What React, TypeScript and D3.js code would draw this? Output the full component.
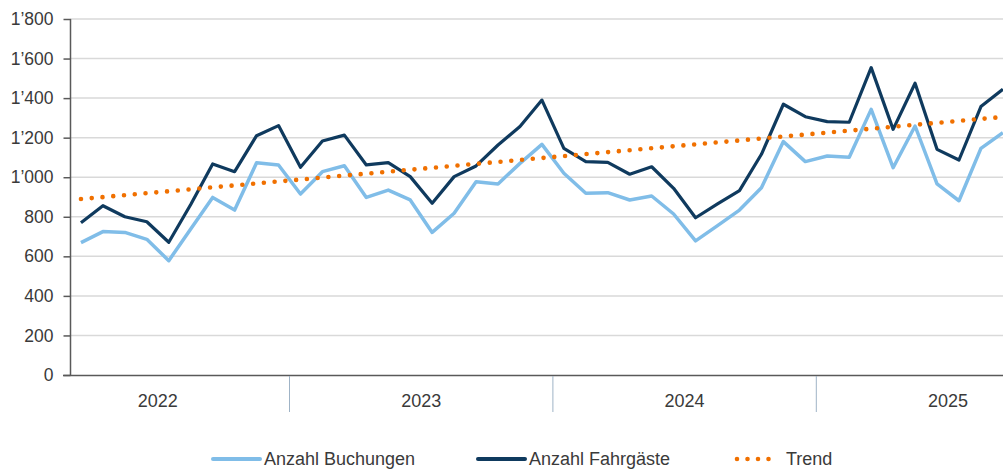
import React, { useEffect, useRef } from 'react';
import * as d3 from 'd3';

// months shown on the axis (Mar 2022 - Sep 2025)
const months = [
  '2022-03', '2022-04', '2022-05', '2022-06', '2022-07', '2022-08', '2022-09', '2022-10', '2022-11', '2022-12',
  '2023-01', '2023-02', '2023-03', '2023-04', '2023-05', '2023-06', '2023-07', '2023-08', '2023-09', '2023-10', '2023-11', '2023-12',
  '2024-01', '2024-02', '2024-03', '2024-04', '2024-05', '2024-06', '2024-07', '2024-08', '2024-09', '2024-10', '2024-11', '2024-12',
  '2025-01', '2025-02', '2025-03', '2025-04', '2025-05', '2025-06', '2025-07', '2025-08', '2025-09'
];
const years = ['2022', '2023', '2024', '2025'];

const buchungen = [
  669, 725, 721, 686, 578, 738, 898, 834, 1073, 1062,
  915, 1028, 1058, 898, 935, 885, 721, 818, 977, 966, 1070, 1166,
  1020, 919, 922, 885, 905, 814, 678, 755, 834, 947, 1180, 1079,
  1107, 1101, 1343, 1048, 1259, 966, 881, 1146, 1225
];
const fahrgaeste = [
  770, 856, 800, 775, 671, 862, 1067, 1028, 1210, 1261,
  1050, 1183, 1213, 1062, 1074, 1003, 868, 1003, 1057, 1163, 1256, 1390,
  1146, 1079, 1075, 1015, 1053, 944, 795, 865, 932, 1116, 1369, 1306,
  1281, 1278, 1554, 1242, 1475, 1141, 1087, 1357, 1445
];
const yTicks = [0, 200, 400, 600, 800, 1000, 1200, 1400, 1600, 1800];
const legendLabels = ['Anzahl Buchungen', 'Anzahl Fahrgäste', 'Trend'];

const W = 1003, H = 470;
const FONT = '"Liberation Sans", Arial, sans-serif';
const C_LIGHT = '#80bde8';
const C_DARK = '#0f3a5e';
const C_TREND = '#f07000';

function fmt(v: number) {
  return d3.format(',')(v).replace(/,/g, '\u2019');
}

export default function App() {
  const ref = useRef<SVGSVGElement>(null);

  useEffect(() => {
    const svg = d3.select(ref.current);
    svg.selectAll('*').remove();

    const left = 70, top = 19, bottom = 375;
    const step = 21.95;
    const x = d3.scaleBand<string>().domain(months).range([left, left + months.length * step]);
    const cx = (m: string) => (x(m) as number) + x.bandwidth() / 2;
    const y = d3.scaleLinear().domain([0, 1800]).range([bottom, top]);

    // grid
    svg.append('g').selectAll('line').data(yTicks.filter(d => d > 0)).enter().append('line')
      .attr('x1', left).attr('x2', W)
      .attr('y1', d => y(d)).attr('y2', d => y(d))
      .attr('stroke', '#d9d9d9').attr('stroke-width', 1.5);

    // y axis
    const yAxis = d3.axisLeft(y).tickValues(yTicks).tickSize(7).tickPadding(10).tickFormat(d => fmt(+d));
    const gy = svg.append('g').attr('transform', `translate(${left + 0.5},0)`).call(yAxis);
    gy.select('.domain').attr('stroke', '#595959').attr('stroke-width', 1.5).attr('d', `M0,${top}V${bottom}`);
    gy.selectAll('.tick line').attr('stroke', '#595959').attr('stroke-width', 1.5);
    gy.selectAll('.tick text').attr('font-family', FONT).attr('font-size', 17.5).attr('fill', '#3a3a3a');

    // x axis line
    svg.append('line').attr('x1', left - 7).attr('x2', W).attr('y1', bottom + 0.5).attr('y2', bottom + 0.5)
      .attr('stroke', '#595959').attr('stroke-width', 1.5);

    // year groups (full 12-month blocks on the month scale)
    const yearSpan = years.map(yr => {
      const first = months.find(m => m.startsWith(yr)) as string;
      const mNum = +first.slice(5);
      const start = (x(first) as number) - (mNum - 1) * step;
      return { yr, start, end: start + 12 * step };
    });
    svg.append('g').selectAll('line').data(yearSpan.slice(1)).enter().append('line')
      .attr('x1', d => d.start).attr('x2', d => d.start)
      .attr('y1', bottom + 1).attr('y2', bottom + 37)
      .attr('stroke', '#9fb3c6').attr('stroke-width', 1);
    svg.append('g').selectAll('text').data(yearSpan).enter().append('text')
      .attr('x', d => (d.start + d.end) / 2).attr('y', 401)
      .attr('text-anchor', 'middle').attr('dominant-baseline', 'central')
      .attr('font-family', FONT).attr('font-size', 18).attr('fill', '#3a3a3a')
      .text(d => d.yr);

    // lines
    const line = d3.line<number>().x((_, i) => cx(months[i])).y(d => y(d));
    svg.append('path').datum(buchungen).attr('d', line).attr('fill', 'none')
      .attr('stroke', C_LIGHT).attr('stroke-width', 3.5).attr('stroke-linejoin', 'round');
    svg.append('path').datum(fahrgaeste).attr('d', line).attr('fill', 'none')
      .attr('stroke', C_DARK).attr('stroke-width', 3.2).attr('stroke-linejoin', 'round');

    // linear trend of Fahrgäste (least squares)
    const n = fahrgaeste.length;
    const mx = (n - 1) / 2;
    const my = d3.mean(fahrgaeste) as number;
    const sxy = d3.sum(fahrgaeste, (v, i) => (i - mx) * (v - my));
    const sxx = d3.sum(fahrgaeste, (_, i) => (i - mx) * (i - mx));
    const slope = sxy / sxx;
    const trend = fahrgaeste.map((_, i) => my + slope * (i - mx));
    svg.append('path').datum(trend).attr('d', line).attr('fill', 'none')
      .attr('stroke', C_TREND).attr('stroke-width', 4.6)
      .attr('stroke-linecap', 'round').attr('stroke-dasharray', '0 10.8');

    // legend
    const leg = [
      { label: legendLabels[0], x0: 213, color: C_LIGHT, dots: false },
      { label: legendLabels[1], x0: 478, color: C_DARK, dots: false },
      { label: legendLabels[2], x0: 737, color: C_TREND, dots: true },
    ];
    const ly = 459;
    const lg = svg.append('g').selectAll('g').data(leg).enter().append('g');
    lg.append('line')
      .attr('x1', d => d.x0).attr('x2', d => d.dots ? d.x0 + 42 : d.x0 + 47)
      .attr('y1', ly).attr('y2', ly)
      .attr('stroke', d => d.color)
      .attr('stroke-width', d => d.dots ? 4.6 : 4)
      .attr('stroke-linecap', 'round')
      .attr('stroke-dasharray', d => d.dots ? '0 10.5' : null);
    lg.append('text')
      .attr('x', d => d.dots ? d.x0 + 49 : d.x0 + 51).attr('y', ly)
      .attr('dominant-baseline', 'central')
      .attr('font-family', FONT).attr('font-size', 18).attr('fill', '#3a3a3a')
      .text(d => d.label);
  }, []);

  return (
    <div style={{ position: 'absolute', left: 0, top: 0, width: W, height: H, background: '#fff' }}>
      <svg ref={ref} width={W} height={H} style={{ display: 'block' }} />
    </div>
  );
}
